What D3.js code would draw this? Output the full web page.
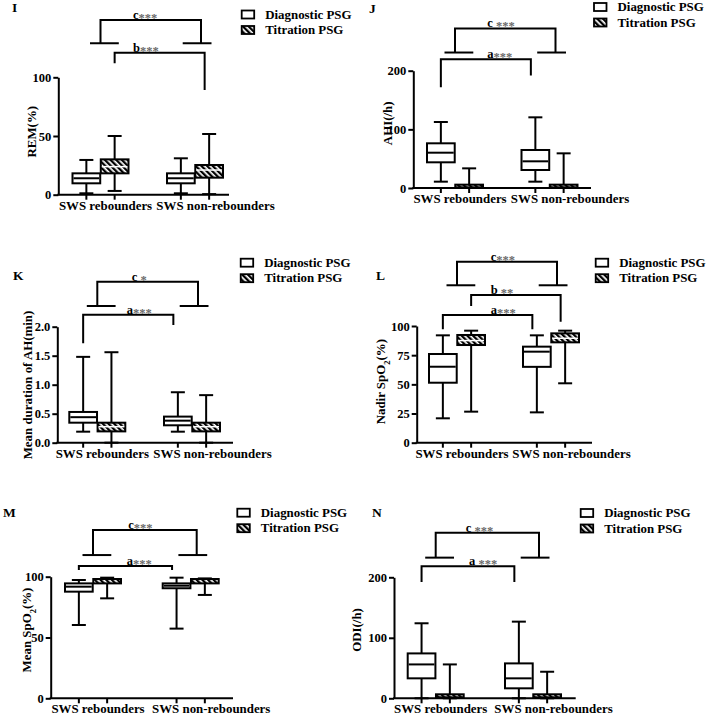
<!DOCTYPE html>
<html><head><meta charset="utf-8">
<script src="https://cdn.jsdelivr.net/npm/d3@7"></script>
<style>body{margin:0;background:#fff} svg{display:block}</style>
</head><body>
<svg id="chart" width="708" height="717"></svg>
<script>
const groups = ["SWS rebounders", "SWS non-rebounders"];
const seriesNames = ["Diagnostic PSG", "Titration PSG"];

// [min, Q1, median, Q3, max]: rebounders-diag, rebounders-titr, non-rebounders-diag, non-rebounders-titr
const remStats = [[1.2, 9.7, 14, 18.2, 29.6], [3.2, 18.2, 23.9, 30.1, 50], [1.2, 9.7, 14, 18.2, 31], [0.5, 14.5, 21, 25.3, 51.7]];
const ahiStats = [[10.8, 43.8, 60.2, 76.2, 112.5], [0, 1.1, 3, 5.7, 33.5], [10.8, 30.7, 45.5, 64.8, 120.5], [0, 1.1, 3, 5.7, 59.1]];
const durStats = [[0.19, 0.345, 0.44, 0.53, 1.48], [0, 0.195, 0.276, 0.345, 1.56], [0.19, 0.3, 0.38, 0.45, 0.87], [0, 0.195, 0.276, 0.345, 0.82]];
const nadirStats = [[20.9, 51.4, 65.1, 76, 92], [26.6, 83.7, 87.5, 92.3, 96], [26, 65, 78, 82.3, 92], [50.9, 86, 89.5, 93.7, 96]];
const meanSpo2Stats = [[60.3, 87.7, 91.8, 94.5, 97.3], [82.2, 94.5, 96.4, 98.1, 99.2], [57.3, 90.5, 92.6, 94.5, 99.2], [85, 94.5, 96.3, 98.1, 98.6]];
const odiStats = [[0, 33, 56, 74.2, 124], [0, 1.6, 3.5, 6.6, 56], [0, 16.5, 33, 57.7, 126.7], [0, 1.6, 3.5, 6.6, 43.9]];

const remTicks = [0, 50, 100];
const ahiTicks = [0, 100, 200];
const durTicks = [0, 0.5, 1.0, 1.5, 2.0];
const nadirTicks = [0, 25, 50, 75, 100];
const meanSpo2Ticks = [0, 50, 100];
const odiTicks = [0, 100, 200];

// significance brackets (values in data units of each panel)
const remSig = [
  {letter: "c", stars: "***", kind: "group", top: 148.8, leftEnd: 129, rightEnd: 129},
  {letter: "b", stars: "***", kind: "box", from: 1, to: 3, top: 121, leftEnd: 112, rightEnd: 89.2}
];
const ahiSig = [
  {letter: "c", stars: " ***", kind: "group", top: 272, leftEnd: 231, rightEnd: 231},
  {letter: "a", stars: "***", kind: "box", from: 0, to: 2, top: 219.4, leftEnd: 171.7, rightEnd: 192}
];
const durSig = [
  {letter: "c", stars: " *", kind: "group", top: 2.776, leftEnd: 2.357, rightEnd: 2.357},
  {letter: "a", stars: "***", kind: "box", from: 0, to: 2, top: 2.207, leftEnd: 1.714, rightEnd: 2.03}
];
const nadirSig = [
  {letter: "c", stars: "***", kind: "group", top: 155.1, leftEnd: 134.9, rightEnd: 134.9},
  {letter: "b", stars: " **", kind: "box", from: 1, to: 3, top: 126.6, leftEnd: 117.1, rightEnd: 103.7},
  {letter: "a", stars: "***", kind: "box", from: 0, to: 2, top: 109.4, leftEnd: 97.2, rightEnd: 97.2}
];
const meanSpo2Sig = [
  {letter: "c", stars: "***", kind: "group", top: 138.4, leftEnd: 117.8, rightEnd: 117.8},
  {letter: "a", stars: "***", kind: "box", from: 0, to: 2, top: 108.8, leftEnd: 105.5, rightEnd: 105.5}
];
const odiSig = [
  {letter: "c", stars: " ***", kind: "group", top: 273.7, leftEnd: 232.5, rightEnd: 232.5},
  {letter: "a", stars: " ***", kind: "box", from: 0, to: 2, top: 218.1, leftEnd: 192.3, rightEnd: 192.3}
];

// layout (pixels) for each panel
const panels = [
  {id: "I", ylabel: ["REM(%)"], stats: remStats, ticks: remTicks, sig: remSig, fmt: "d",
   L: {ax: 58.3, y0: 194.7, yTop: 77.3, xEnd: 229, g: [42.2, 136.7], title: [12, 12], legend: [241.7, 18.5], ylab: [31.7, 131.7], sigX: [74.7, 74.7]}},
  {id: "J", ylabel: ["AHI(/h)"], stats: ahiStats, ticks: ahiTicks, sig: ahiSig, fmt: "d",
   L: {ax: 413.3, y0: 188, yTop: 70.7, xEnd: 591, g: [41.7, 136.2], title: [369, 13], legend: [594, 11], ylab: [387.3, 123.3], sigX: [74, 74]}},
  {id: "K", ylabel: ["Mean duration of AH(min)"], stats: durStats, ticks: durTicks, sig: durSig, fmt: ".1f",
   L: {ax: 57.3, y0: 442.7, yTop: 326.7, xEnd: 233, g: [40, 134.7], title: [13, 280], legend: [240.7, 266.7], ylab: [27.3, 385], sigX: [74.4, 69.4]}},
  {id: "L", ylabel: ["Nadir  SpO", "2", "(%)"], stats: nadirStats, ticks: nadirTicks, sig: nadirSig, fmt: "d",
   L: {ax: 416.7, y0: 442.7, yTop: 326, xEnd: 592, g: [40.3, 134.3], title: [376, 280], legend: [595.7, 266.7], ylab: [380.7, 381.7], sigX: [74, 74, 74]}},
  {id: "M", ylabel: ["Mean SpO", "2", "(%)"], stats: meanSpo2Stats, ticks: meanSpo2Ticks, sig: meanSpo2Sig, fmt: "d",
   L: {ax: 50.7, y0: 698.3, yTop: 576.7, xEnd: 233, g: [42.3, 140], title: [3, 517], legend: [237.3, 516.7], ylab: [26.7, 630], sigX: [77.6, 76]}},
  {id: "N", ylabel: ["ODI(/h)"], stats: odiStats, ticks: odiTicks, sig: odiSig, fmt: "d",
   L: {ax: 394, y0: 698.3, yTop: 577.3, xEnd: 575.7, g: [41.7, 139], title: [372, 517], legend: [580.7, 517], ylab: [356, 630], sigX: [71.7, 75]}}
];

const FONT = "'Liberation Serif','Times New Roman',serif";
const svg = d3.select("#chart");
const defs = svg.append("defs");
const pat = defs.append("pattern").attr("id", "hatch").attr("patternUnits", "userSpaceOnUse")
  .attr("width", 4).attr("height", 4).attr("patternTransform", "rotate(-45)");
pat.append("rect").attr("width", 4).attr("height", 4).attr("fill", "#fff");
pat.append("rect").attr("width", 2.3).attr("height", 4).attr("fill", "#000");
const fills = ["#fff", "url(#hatch)"];

function txt(sel) {
  return sel.attr("font-family", FONT).attr("font-weight", "bold").attr("fill", "#000");
}

panels.forEach(p => {
  const L = p.L;
  const g = svg.append("g");
  const y = d3.scaleLinear().domain([0, d3.max(p.ticks)]).range([L.y0, L.yTop]);
  const gx = d3.scaleOrdinal().domain(groups).range(L.g.map(o => L.ax + o));
  const inner = d3.scaleBand().domain(seriesNames).range([-28, 28]).paddingInner(0.02);
  const bw = inner.bandwidth();
  const boxes = p.stats.map((v, i) => ({g: groups[Math.floor(i / 2)], s: seriesNames[i % 2], si: i % 2, v}));
  const cx = d => gx(d.g) + inner(d.s) + bw / 2;

  // title letter
  txt(g.append("text")).attr("x", L.title[0]).attr("y", L.title[1]).attr("font-size", 13.5).text(p.id);

  // y axis
  const ya = d3.axisLeft(y).tickValues(p.ticks).tickSize(5).tickSizeOuter(0).tickPadding(2)
    .tickFormat(d3.format(p.fmt));
  const yg = g.append("g").attr("transform", `translate(${L.ax},0)`).call(ya);
  yg.select(".domain").attr("stroke-width", 2).attr("stroke", "#000");
  yg.selectAll(".tick line").attr("stroke-width", 2).attr("stroke", "#000");
  txt(yg.selectAll(".tick text")).attr("font-size", 12.5);

  // x axis
  g.append("line").attr("x1", L.ax - 1).attr("x2", L.xEnd).attr("y1", L.y0).attr("y2", L.y0)
    .attr("stroke", "#000").attr("stroke-width", 2);
  g.selectAll(".xt").data(boxes).join("line").attr("class", "xt")
    .attr("x1", cx).attr("x2", cx).attr("y1", L.y0).attr("y2", L.y0 + 5)
    .attr("stroke", "#000").attr("stroke-width", 2);
  const labelShift = [5, 20.5];
  groups.forEach((gr, i) => {
    txt(g.append("text")).attr("x", gx(gr) + labelShift[i]).attr("y", L.y0 + 15)
      .attr("text-anchor", "middle").attr("font-size", 12.9).text(gr);
  });

  // y label
  const yl = txt(g.append("text")).attr("transform", `translate(${L.ylab[0]},${L.ylab[1]}) rotate(-90)`)
    .attr("text-anchor", "middle").attr("dy", "0.35em").attr("font-size", 12.9);
  p.ylabel.forEach((part, i) => {
    const t = yl.append("tspan").text(part);
    if (i === 1) t.attr("font-size", 8.5).attr("baseline-shift", "sub");
  });

  // boxes
  const bg = g.selectAll(".box").data(boxes).join("g").attr("class", "box");
  bg.append("line").attr("x1", cx).attr("x2", cx).attr("y1", d => y(d.v[0])).attr("y2", d => y(d.v[4]))
    .attr("stroke", "#000").attr("stroke-width", 2);
  [0, 4].forEach(k => {
    bg.append("line").attr("x1", d => cx(d) - 7).attr("x2", d => cx(d) + 7)
      .attr("y1", d => y(d.v[k])).attr("y2", d => y(d.v[k])).attr("stroke", "#000").attr("stroke-width", 2);
  });
  bg.append("rect").attr("x", d => cx(d) - bw / 2).attr("width", bw)
    .attr("y", d => y(d.v[3])).attr("height", d => y(d.v[1]) - y(d.v[3]))
    .attr("fill", d => fills[d.si]).attr("stroke", "#000").attr("stroke-width", 2);
  bg.filter(d => d.si === 0 || (y(d.v[1]) - y(d.v[3])) > 6)
    .append("line").attr("x1", d => cx(d) - bw / 2 + 1).attr("x2", d => cx(d) + bw / 2 - 1)
    .attr("y1", d => y(d.v[2])).attr("y2", d => y(d.v[2]))
    .attr("stroke", d => d.si ? "#fff" : "#000").attr("stroke-width", d => d.si ? 1.5 : 2);

  // significance brackets
  p.sig.forEach((s, k) => {
    let x1, x2;
    if (s.kind === "group") {
      x1 = gx(groups[0]); x2 = gx(groups[1]) + 6;
      g.append("line").attr("x1", x1 - 10.5).attr("x2", x1 + 18.3).attr("y1", y(s.leftEnd)).attr("y2", y(s.leftEnd))
        .attr("stroke", "#000").attr("stroke-width", 2);
      g.append("line").attr("x1", x2 - 18.3).attr("x2", x2 + 10.5).attr("y1", y(s.rightEnd)).attr("y2", y(s.rightEnd))
        .attr("stroke", "#000").attr("stroke-width", 2);
    } else {
      x1 = cx(boxes[s.from]); x2 = cx(boxes[s.to]) - 4.5;
    }
    g.append("path").attr("d", `M${x1},${y(s.leftEnd)}V${y(s.top)}H${x2}V${y(s.rightEnd)}`)
      .attr("fill", "none").attr("stroke", "#000").attr("stroke-width", 2);
    const t = txt(g.append("text")).attr("x", L.ax + L.sigX[k]).attr("y", y(s.top) - 1).attr("font-size", 12.5);
    t.append("tspan").text(s.letter);
    t.append("tspan").attr("fill", "#6a6a6a").attr("dy", 3).text(s.stars);
  });

  // legend
  seriesNames.forEach((name, i) => {
    const by = L.legend[1] + i * 15.5;
    g.append("rect").attr("x", L.legend[0]).attr("y", by - 8).attr("width", 12.5).attr("height", 8)
      .attr("fill", fills[i]).attr("stroke", "#000").attr("stroke-width", 1.8);
    txt(g.append("text")).attr("x", L.legend[0] + 23.5).attr("y", by).attr("font-size", 12.9).text(name);
  });
});
</script>
</body></html>
